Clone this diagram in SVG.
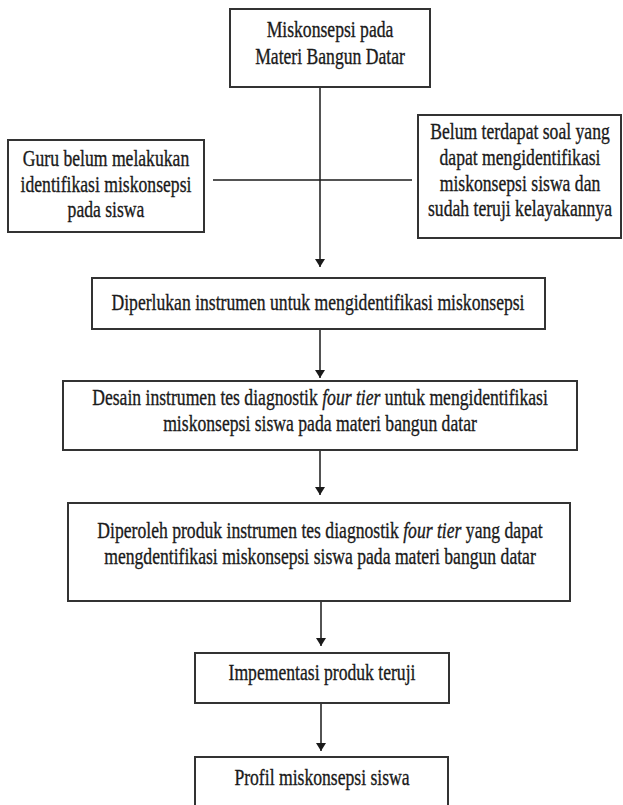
<svg xmlns="http://www.w3.org/2000/svg" width="623" height="805" viewBox="0 0 623 805">
<defs>
<style>
.box{fill:#fff;stroke:#333;stroke-width:2}
.ln{stroke:#1a1a1a;stroke-width:1.5;fill:none}
.t{font-family:"Liberation Serif","Times New Roman",serif;font-size:23.5px;fill:#1a1a1a;stroke:#1a1a1a;stroke-width:0.35;text-anchor:middle}
.i{font-style:italic}
</style>
<marker id="ah" viewBox="0 0 8 12" refX="8" refY="6" markerWidth="8" markerHeight="12" markerUnits="userSpaceOnUse" orient="auto">
<path d="M0,1 L8,6 L0,11 Z" fill="#1a1a1a"/>
</marker>
</defs>
<rect width="623" height="805" fill="#fff"/>
<g id="connectors">
<line class="ln" x1="320" y1="87" x2="320" y2="267" marker-end="url(#ah)"/>
<line class="ln" x1="213" y1="180" x2="412" y2="180"/>
<line class="ln" x1="320" y1="329" x2="320" y2="378" marker-end="url(#ah)"/>
<line class="ln" x1="320" y1="450" x2="320" y2="495" marker-end="url(#ah)"/>
<line class="ln" x1="321" y1="601" x2="321" y2="646" marker-end="url(#ah)"/>
<line class="ln" x1="321" y1="703" x2="321" y2="751" marker-end="url(#ah)"/>
</g>
<g id="n1">
<rect class="box" x="230" y="9" width="200" height="78"/>
<text class="t" transform="translate(330,37) scale(0.75,1)"><tspan x="0" y="0">Miskonsepsi pada</tspan><tspan x="0" y="27">Materi Bangun Datar</tspan></text>
</g>
<g id="n2">
<rect class="box" x="8" y="140" width="196" height="92"/>
<text class="t" transform="translate(106,166) scale(0.75,1)"><tspan x="0" y="0">Guru belum melakukan</tspan><tspan x="0" y="26">identifikasi miskonsepsi</tspan><tspan x="0" y="51">pada siswa</tspan></text>
</g>
<g id="n3">
<rect class="box" x="418" y="115" width="203" height="123"/>
<text class="t" transform="translate(520,139) scale(0.75,1)"><tspan x="0" y="0">Belum terdapat soal yang</tspan><tspan x="0" y="26">dapat mengidentifikasi</tspan><tspan x="0" y="52">miskonsepsi siswa dan</tspan><tspan x="0" y="77">sudah teruji kelayakannya</tspan></text>
</g>
<g id="n4">
<rect class="box" x="92" y="278" width="453" height="51"/>
<text class="t" transform="translate(318,310) scale(0.75,1)">Diperlukan instrumen untuk mengidentifikasi miskonsepsi</text>
</g>
<g id="n5">
<rect class="box" x="63" y="381" width="514" height="69"/>
<text class="t" transform="translate(320,405) scale(0.75,1)"><tspan x="0" y="0">Desain instrumen tes diagnostik <tspan class="i">four tier</tspan> untuk mengidentifikasi</tspan><tspan x="0" y="26">miskonsepsi siswa pada materi bangun datar</tspan></text>
</g>
<g id="n6">
<rect class="box" x="68" y="503" width="502" height="98"/>
<text class="t" transform="translate(320,538) scale(0.75,1)"><tspan x="0" y="0">Diperoleh produk instrumen tes diagnostik <tspan class="i">four tier</tspan> yang dapat</tspan><tspan x="0" y="26">mengdentifikasi miskonsepsi siswa pada materi bangun datar</tspan></text>
</g>
<g id="n7">
<rect class="box" x="195" y="653" width="254" height="50"/>
<text class="t" transform="translate(322,680) scale(0.75,1)">Impementasi produk teruji</text>
</g>
<g id="n8">
<rect class="box" x="195" y="757" width="253" height="70"/>
<text class="t" transform="translate(322,785) scale(0.75,1)">Profil miskonsepsi siswa</text>
</g>
</svg>
